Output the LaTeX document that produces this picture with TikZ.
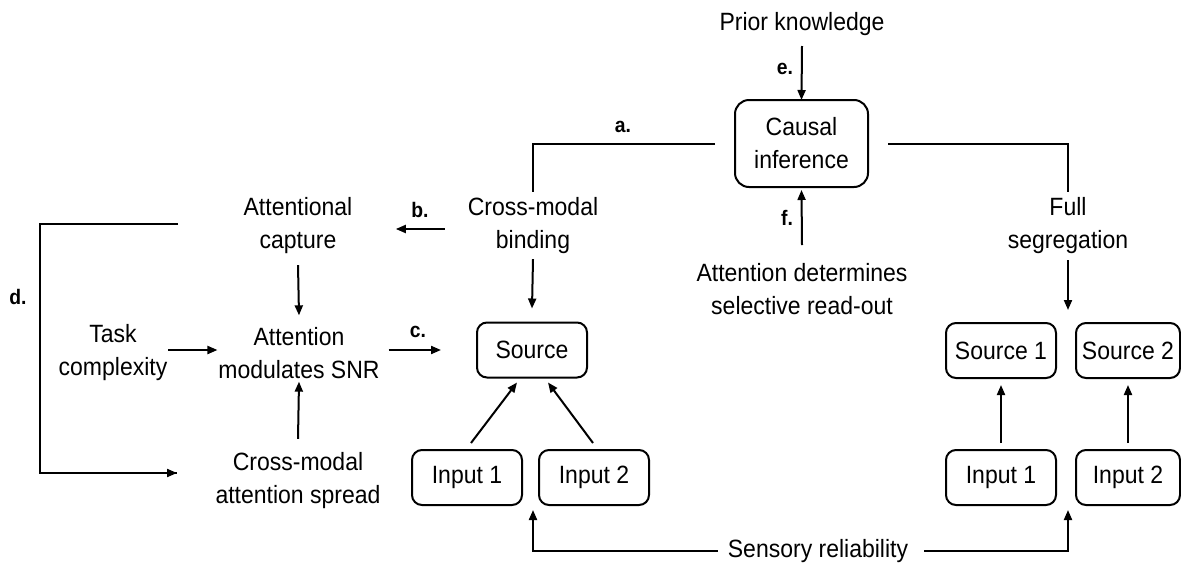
\documentclass[tikz,border=0pt]{standalone}
\usepackage{fontspec}
\setmainfont{Liberation Sans}[FakeStretch=0.92]
\usetikzlibrary{arrows.meta,calc}
\begin{document}
\begin{tikzpicture}[x=1pt,y=-1pt,
  every node/.style={inner sep=0pt,outer sep=0pt,font=\fontsize{25}{33}\selectfont},
  txt/.style={align=center},
  rbox/.style={draw,line width=2pt,rounded corners=10pt,minimum width=110pt,minimum height=55pt},
  lbl/.style={font=\fontsize{21}{24}\selectfont\bfseries},
  link/.style={line width=2pt},
  arr/.style={line width=2pt,-{Triangle[length=10pt,width=8pt]}}]
\useasboundingbox (0,0) rectangle (1181,568);

% top: prior knowledge and causal inference
\node[txt] (prior) at (802,24) {Prior knowledge};
\node[rbox,minimum width=133pt,minimum height=87pt,rounded corners=14pt,align=center] (causal) at (801.5,143.5) {Causal\\inference};
\node[txt] (readout) at (802,289) {Attention determines\\selective read-out};

% branches
\node[txt] (binding) at (533,226) {Cross-modal\\binding};
\node[txt] (segreg) at (1068,226) {Full\\segregation};

% attention column
\node[txt] (capture) at (298,226) {Attentional\\capture};
\node[txt] (snr) at (299,353) {Attention\\modulates SNR};
\node[txt] (task) at (113,353) {Task\\complexity};
\node[txt] (spread) at (298,481) {Cross-modal\\attention spread};

% integration boxes
\node[rbox] (source) at (532,350) {Source};
\node[rbox] (inA) at (467,477.5) {Input 1};
\node[rbox] (inB) at (594,477.5) {Input 2};

% segregation boxes
\node[rbox] (srcA) at (1001,350.5) {Source 1};
\node[rbox,minimum width=104pt] (srcB) at (1128,350.5) {Source 2};
\node[rbox] (inC) at (1001,477.5) {Input 1};
\node[rbox,minimum width=104pt] (inD) at (1128,477.5) {Input 2};

\node[txt] (sensory) at (818,551) {Sensory reliability};

% labels
\node[lbl] (la) at (623,127) {a.};
\node[lbl] (lb) at (420,210) {b.};
\node[lbl] (lc) at (418,332) {c.};
\node[lbl] (ld) at (18,297) {d.};
\node[lbl] (le) at (785,69) {e.};
\node[lbl] (lf) at (787,218) {f.};

% free ends
\coordinate (dtop) at (178,224);
\coordinate (dbot) at (177,473);
\coordinate (segtip) at (1068,310);
\coordinate (lgap) at (533,510);
\coordinate (rgap) at (1068,510);

% connectors
\draw[arr] ([yshift=-22pt]prior.center) -- (causal.north);
\draw[link] ([xshift=-20pt]causal.west) -| ([yshift=6pt]binding.north);
\draw[link] ([xshift=20pt]causal.east) -| ([yshift=6pt]segreg.north);
\draw[arr] ([yshift=44pt]readout.center) -- ([yshift=-3pt]causal.south);

\draw[arr] ($(binding.west)+(-23,3)$) -- ($(binding.west)+(-72,3)$);
\draw[arr] ([yshift=-5pt]binding.south) -- ([yshift=14pt]source.north);
\draw[arr] ([yshift=-6pt]segreg.south) -- (segtip);

\draw[arr] ([yshift=-11pt]capture.south) -- ([yshift=12pt]snr.north);
\draw[arr] ([yshift=14pt]spread.north) -- ([yshift=-3pt]snr.south);
\draw[arr,shorten <=1pt,shorten >=1pt] (task.east |- source.west) -- (snr.west |- source.west);
\draw[arr,shorten <=9pt,shorten >=36pt] (snr.east |- source.west) -- (source.west);

\draw[link] (dtop) -- ++(-138,0) |- (dbot);
\draw[arr] ($(dbot)+(-2,0)$) -- (dbot);

\draw[arr] ([xshift=4pt,yshift=7pt]inA.north) -- ([xshift=-15pt,yshift=-5pt]source.south);
\draw[arr] ([xshift=-1pt,yshift=7pt]inB.north) -- ([xshift=16pt,yshift=-5pt]source.south);
\draw[arr] ([yshift=7pt]inC.north) -- ([yshift=-7pt]srcA.south);
\draw[arr] ([yshift=7pt]inD.north) -- ([yshift=-7pt]srcB.south);

\draw[arr] ([xshift=-10pt]sensory.west) -| (lgap);
\draw[arr] ([xshift=16pt]sensory.east) -| (rgap);
\end{tikzpicture}
\end{document}
